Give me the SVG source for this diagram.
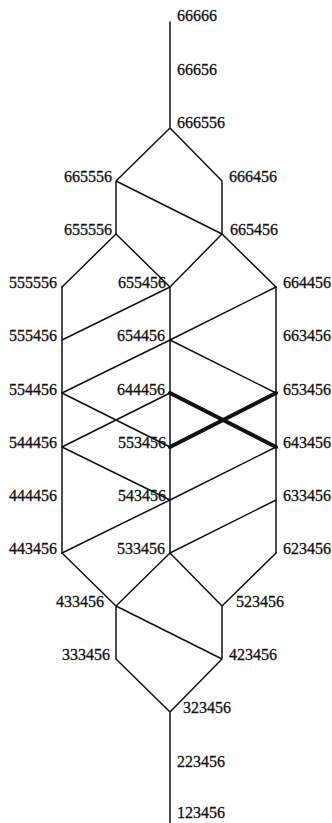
<svg xmlns="http://www.w3.org/2000/svg" width="332" height="823" viewBox="0 0 332 823">
<style>
text{font-family:"Liberation Serif","Times New Roman",serif;font-size:16px;fill:#111;stroke:#111;stroke-width:0.3}
.l{text-anchor:end}
.e{stroke:#111;stroke-width:1.5;fill:none;stroke-linecap:round}
.t{stroke:#111;stroke-width:4;fill:none;stroke-linecap:round}
</style>
<rect width="332" height="823" fill="#fff"/>
<g id="connectors">
<path class="e" d="M170 22V128M170 128L116 181M170 128L222 181M116 181V234M116 181L222 234M222 181V234"/>
<path class="e" d="M116 234L62 287M116 234L170 287M222 234L170 287M222 234L276 287"/>
<path class="e" d="M62 287V553M170 287V553M276 287V553"/>
<path class="e" d="M62 340L170 287M170 340L276 287M62 393L170 340M170 340L276 393M62 393L170 447M62 447L170 393M62 447L170 500M276 447L170 500M62 553L170 500M170 553L276 500"/>
<path class="t" d="M170 393L276 447M170 447L276 393"/>
<path class="e" d="M62 553L116 606M170 553L116 606M170 553L222 606M276 553L222 606M116 606V659M116 606L222 659M222 606V659M116 659L170 712M222 659L170 712M170 712V823"/>
</g>
<g id="n66666"><text x="177" y="21">66666</text></g>
<g id="n66656"><text x="177" y="75">66656</text></g>
<g id="n666556"><text x="177" y="128">666556</text></g>
<g id="n665556"><text class="l" x="112" y="182">665556</text></g>
<g id="n666456"><text x="229" y="182">666456</text></g>
<g id="n655556"><text class="l" x="112" y="235">655556</text></g>
<g id="n665456"><text x="230" y="235">665456</text></g>
<g id="n555556"><text class="l" x="57" y="288">555556</text></g>
<g id="n655456"><text class="l" x="166" y="288">655456</text></g>
<g id="n664456"><text x="283" y="288">664456</text></g>
<g id="n555456"><text class="l" x="57" y="341">555456</text></g>
<g id="n654456"><text class="l" x="165" y="341">654456</text></g>
<g id="n663456"><text x="283" y="341">663456</text></g>
<g id="n554456"><text class="l" x="57" y="395">554456</text></g>
<g id="n644456"><text class="l" x="165" y="395">644456</text></g>
<g id="n653456"><text x="283" y="395">653456</text></g>
<g id="n544456"><text class="l" x="57" y="448">544456</text></g>
<g id="n553456"><text class="l" x="166" y="448">553456</text></g>
<g id="n643456"><text x="283" y="448">643456</text></g>
<g id="n444456"><text class="l" x="57" y="501">444456</text></g>
<g id="n543456"><text class="l" x="166" y="501">543456</text></g>
<g id="n633456"><text x="283" y="501">633456</text></g>
<g id="n443456"><text class="l" x="57" y="554">443456</text></g>
<g id="n533456"><text class="l" x="165" y="554">533456</text></g>
<g id="n623456"><text x="283" y="554">623456</text></g>
<g id="n433456"><text class="l" x="104" y="607">433456</text></g>
<g id="n523456"><text x="236" y="607">523456</text></g>
<g id="n333456"><text class="l" x="110" y="660">333456</text></g>
<g id="n423456"><text x="229" y="660">423456</text></g>
<g id="n323456"><text x="183" y="713">323456</text></g>
<g id="n223456"><text x="177" y="767">223456</text></g>
<g id="n123456"><text x="177" y="818">123456</text></g>
</svg>
